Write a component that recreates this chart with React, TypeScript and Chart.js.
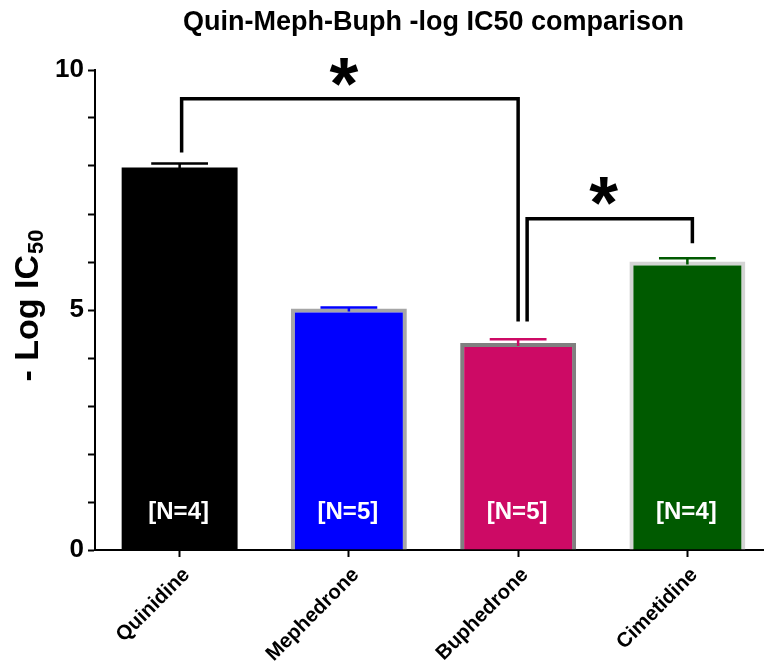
import React, { useEffect, useRef } from 'react';
import { Chart, registerables } from 'chart.js';

Chart.register(...registerables);

// ---------- data ----------
const chartTitle = 'Quin-Meph-Buph -log IC50 comparison';
const categories = ['Quinidine', 'Mephedrone', 'Buphedrone', 'Cimetidine'];
const meanValues = [7.97, 5.03, 4.31, 6.01];
const semValues = [0.08, 0.02, 0.08, 0.07];
const nValues = [4, 5, 5, 4];
const yTickLabels = [0, 5, 10];
const yMin = 0;
const yMax = 10;
const nLabelLevel = 0.79;
// significance brackets (category indices, data-space heights)
const bracketFrom = [0, 2];
const bracketTo = [2, 3];
const bracketTop = [9.4, 6.9];
const bracketFromEnd = [8.28, 4.76];
const bracketToEnd = [4.76, 6.39];
const bracketStarLevel = [9.96, 7.48];
const bracketLabel = ['*', '*'];

// ---------- styles ----------
const FONT = 'Arial, "Liberation Sans", Helvetica, sans-serif';
const fillColors = ['#000000', '#0000ff', '#cd0a65', '#005a00'];
const borderColors = ['#000000', '#a6a6a6', '#808080', '#d4d4d4'];
const borderWidths = [0, 4, 4, 4];
const bracketLegShiftPx = [[2, 0], [9, 5]];

const CANVAS_W = 772;
const CANVAS_H = 665;

const overlayPlugin = {
  id: 'overlay',
  afterDatasetsDraw(chart: any) {
    const { ctx, chartArea, scales } = chart;
    const x = scales.x;
    const y = scales.y;
    const meta = chart.getDatasetMeta(0);

    // error bars (upper only)
    ctx.save();
    ctx.lineWidth = 2.5;
    meta.data.forEach((bar: any, i: number) => {
      const cx = bar.x;
      const yBar = y.getPixelForValue(meanValues[i]);
      const yTop = y.getPixelForValue(meanValues[i] + semValues[i]);
      const half = bar.width * 0.245;
      ctx.strokeStyle = fillColors[i];
      ctx.beginPath();
      ctx.moveTo(cx, yBar + 3);
      ctx.lineTo(cx, yTop);
      ctx.moveTo(cx - half, yTop);
      ctx.lineTo(cx + half, yTop);
      ctx.stroke();
    });
    ctx.restore();

    // N labels
    ctx.save();
    ctx.fillStyle = '#ffffff';
    ctx.font = `bold 24px ${FONT}`;
    ctx.textAlign = 'center';
    ctx.textBaseline = 'middle';
    meta.data.forEach((bar: any, i: number) => {
      ctx.fillText(`[N=${nValues[i]}]`, bar.x - 1, y.getPixelForValue(nLabelLevel));
    });
    ctx.restore();

    // brackets
    ctx.save();
    ctx.strokeStyle = '#000';
    ctx.lineWidth = 3.5;
    ctx.lineJoin = 'miter';
    ctx.lineCap = 'butt';
    for (let b = 0; b < bracketFrom.length; b++) {
      const x1 = x.getPixelForValue(bracketFrom[b]) + bracketLegShiftPx[b][0];
      const x2 = x.getPixelForValue(bracketTo[b]) + bracketLegShiftPx[b][1];
      const yt = y.getPixelForValue(bracketTop[b]);
      ctx.beginPath();
      ctx.moveTo(x1, y.getPixelForValue(bracketFromEnd[b]));
      ctx.lineTo(x1, yt);
      ctx.lineTo(x2, yt);
      ctx.lineTo(x2, y.getPixelForValue(bracketToEnd[b]));
      ctx.stroke();

      ctx.fillStyle = '#000';
      ctx.font = `bold 74px ${FONT}`;
      ctx.textAlign = 'left';
      ctx.textBaseline = 'alphabetic';
      const m = ctx.measureText(bracketLabel[b]);
      const inkW = m.actualBoundingBoxLeft + m.actualBoundingBoxRight;
      const inkH = m.actualBoundingBoxAscent + m.actualBoundingBoxDescent;
      const cx = (x1 + x2) / 2 - 6;
      const cy = y.getPixelForValue(bracketStarLevel[b]);
      ctx.fillText(
        bracketLabel[b],
        cx - inkW / 2 + m.actualBoundingBoxLeft,
        cy - inkH / 2 + m.actualBoundingBoxAscent
      );
    }
    ctx.restore();

    // title
    ctx.save();
    ctx.fillStyle = '#000';
    ctx.font = `bold 27px ${FONT}`;
    ctx.textAlign = 'center';
    ctx.textBaseline = 'alphabetic';
    ctx.fillText(chartTitle, (chartArea.left + chartArea.right) / 2, 30);
    ctx.restore();

    // y-axis title with subscript
    ctx.save();
    ctx.fillStyle = '#000';
    ctx.translate(38, 306);
    ctx.rotate(-Math.PI / 2);
    ctx.textBaseline = 'alphabetic';
    ctx.textAlign = 'left';
    const mainTxt = '- Log IC';
    const subTxt = '50';
    ctx.font = `bold 34px ${FONT}`;
    const wMain = ctx.measureText(mainTxt).width;
    ctx.font = `bold 22px ${FONT}`;
    const wSub = ctx.measureText(subTxt).width;
    const start = -(wMain + wSub) / 2;
    ctx.font = `bold 34px ${FONT}`;
    ctx.fillText(mainTxt, start, 0);
    ctx.font = `bold 22px ${FONT}`;
    ctx.fillText(subTxt, start + wMain + 1, 5);
    ctx.restore();
  },
};

export default function App() {
  const canvasRef = useRef<HTMLCanvasElement | null>(null);

  useEffect(() => {
    if (!canvasRef.current) return;
    const chart = new Chart(canvasRef.current, {
      type: 'bar',
      data: {
        labels: categories,
        datasets: [
          {
            data: meanValues,
            backgroundColor: fillColors,
            borderColor: borderColors,
            borderWidth: borderWidths,
            barPercentage: 0.685,
            categoryPercentage: 1,
          },
        ],
      },
      options: {
        responsive: false,
        animation: false,
        devicePixelRatio: 1,
        layout: { padding: { top: 70, left: 0, right: 0, bottom: 0 } },
        plugins: {
          legend: { display: false },
          tooltip: { enabled: false },
          title: { display: false },
        },
        scales: {
          x: {
            grid: {
              display: true,
              drawOnChartArea: false,
              drawTicks: true,
              tickLength: 7,
              tickWidth: 2,
              tickColor: '#000',
              offset: false,
            },
            border: { display: true, color: '#000', width: 2 },
            ticks: {
              color: '#000',
              font: { family: FONT, size: 20.5, weight: 'bold' },
              minRotation: 45,
              maxRotation: 45,
              autoSkip: false,
              padding: 6,
              labelOffset: 7,
            },
            afterFit: (s: any) => {
              s.height = CANVAS_H - 550;
            },
          },
          y: {
            min: yMin,
            max: yMax,
            grid: {
              display: true,
              drawOnChartArea: false,
              drawTicks: true,
              tickLength: 7,
              tickWidth: 2,
              tickColor: '#000',
            },
            border: { display: true, color: '#000', width: 2 },
            ticks: {
              stepSize: 1,
              color: '#000',
              font: { family: FONT, size: 26, weight: 'bold' },
              padding: 4,
              callback: (v: any) => (yTickLabels.includes(Number(v)) ? String(v) : ''),
            },
            afterFit: (s: any) => {
              s.width = 95;
            },
          },
        },
      } as any,
      plugins: [overlayPlugin],
    });
    return () => chart.destroy();
  }, []);

  return (
    <div
      style={{
        position: 'fixed',
        left: 0,
        top: 0,
        width: 764,
        height: 665,
        overflow: 'hidden',
        background: '#fff',
      }}
    >
      <canvas
        ref={canvasRef}
        width={CANVAS_W}
        height={CANVAS_H}
        style={{ display: 'block', width: CANVAS_W, height: CANVAS_H }}
      />
    </div>
  );
}
